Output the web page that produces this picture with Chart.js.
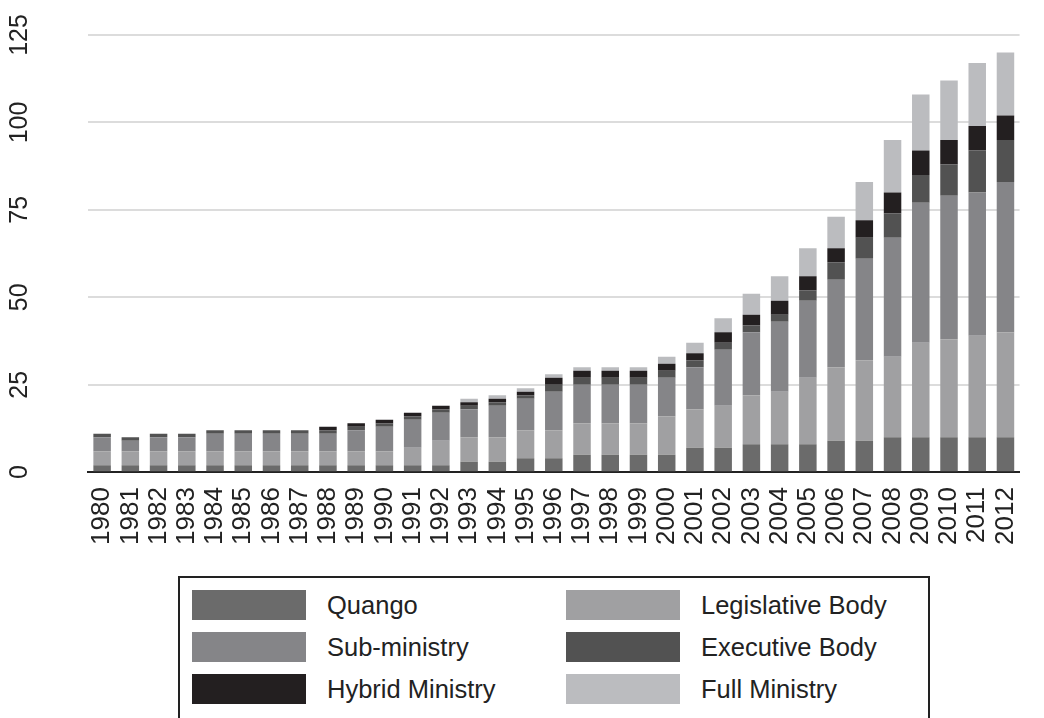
<!DOCTYPE html>
<html>
<head>
<meta charset="utf-8">
<script src="https://cdn.jsdelivr.net/npm/chart.js@4"></script>
<style>
  body { margin: 0; background: #fff; font-family: "Liberation Sans", Arial, sans-serif; }
  #wrap { position: relative; width: 1044px; height: 565px; }
  #legend { position: absolute; left: 178px; top: 576px; width: 752px; height: 150px;
    border: 2px solid #222; box-sizing: border-box; }
  .item { position: absolute; display: flex; align-items: center; font-size: 25.5px; color: #222; }
  .sw { width: 114px; height: 30px; margin-right: 21px; }
</style>
</head>
<body>
<div id="wrap"><canvas id="c" width="1044" height="552"></canvas></div>
<div id="legend"></div>
<script>
// ── Data ──
const years = [];
for (let y = 1980; y <= 2012; y++) years.push(String(y));

const quango      = [2,2,2,2,2,2,2,2,2,2,2,2,2,3,3,4,4,5,5,5,5,7,7,8,8,8,9,9,10,10,10,10,10];
const legislative = [4,4,4,4,4,4,4,4,4,4,4,5,7,7,7,8,8,9,9,9,11,11,12,14,15,19,21,23,23,27,28,29,30];
const subMinistry = [4,3,4,4,5,5,5,5,5,6,7,8,8,8,9,9,11,11,11,11,11,12,16,18,20,22,25,29,34,40,41,41,43];
const executive   = [1,1,1,1,1,1,1,1,1,1,1,1,1,1,1,1,2,2,2,2,2,2,2,2,2,3,5,6,7,8,9,12,12];
const hybrid      = [0,0,0,0,0,0,0,0,1,1,1,1,1,1,1,1,2,2,2,2,2,2,3,3,4,4,4,5,6,7,7,7,7];
const fullMin     = [0,0,0,0,0,0,0,0,0,0,0,0,0,1,1,1,1,1,1,1,2,3,4,6,7,8,9,11,15,16,17,18,18];
const yTicks = [0, 25, 50, 75, 100, 125];

const series = [
  { label: "Quango",           data: quango,      color: "#6b6b6b" },
  { label: "Legislative Body", data: legislative, color: "#a0a0a2" },
  { label: "Sub-ministry",     data: subMinistry, color: "#858588" },
  { label: "Executive Body",   data: executive,   color: "#525252" },
  { label: "Hybrid Ministry",  data: hybrid,      color: "#231f20" },
  { label: "Full Ministry",    data: fullMin,     color: "#bbbcbf" },
];

// ── Rotated y labels ──
const yLabelPlugin = {
  id: "yLabels",
  afterDraw(chart) {
    const { ctx } = chart;
    const y = chart.scales.y;
    ctx.save();
    ctx.fillStyle = "#222";
    ctx.font = "25px 'Liberation Sans', Arial, sans-serif";
    ctx.textAlign = "center";
    ctx.textBaseline = "middle";
    y.ticks.forEach((t) => {
      const py = y.getPixelForValue(t.value);
      ctx.save();
      ctx.translate(20, py);
      ctx.rotate(-Math.PI / 2);
      ctx.fillText(String(t.value), 0, 0);
      ctx.restore();
    });
    ctx.restore();
  },
};

new Chart(document.getElementById("c"), {
  type: "bar",
  data: {
    labels: years,
    datasets: series.map((s) => ({
      label: s.label,
      data: s.data,
      backgroundColor: s.color,
      categoryPercentage: 0.62,
      barPercentage: 1,
    })),
  },
  options: {
    responsive: false,
    animation: false,
    devicePixelRatio: 1,
    layout: { padding: { top: 35, left: 88, right: 22 } },
    plugins: { legend: { display: false }, tooltip: { enabled: false } },
    scales: {
      x: {
        stacked: true,
        grid: { display: false },
        border: { color: "#222", width: 2 },
        ticks: {
          color: "#222",
          autoSkip: false,
          font: { size: 26, family: "'Liberation Sans', Arial, sans-serif" },
          minRotation: 90, maxRotation: 90, padding: 7,
        },
      },
      y: {
        stacked: true,
        min: 0, max: 125,
        afterBuildTicks: (ax) => { ax.ticks = yTicks.map((v) => ({ value: v })); },
        ticks: { display: false },
        grid: { color: "#dcdcdc", lineWidth: 2, drawTicks: false },
        border: { display: false },
      },
    },
  },
  plugins: [yLabelPlugin],
});

// ── Legend ──
const leg = document.getElementById("legend");
series.forEach((s, i) => {
  const el = document.createElement("div");
  el.className = "item";
  el.style.left = (i % 2 === 0 ? 12 : 386) + "px";
  el.style.top = (12 + Math.floor(i / 2) * 42) + "px";
  el.innerHTML = `<div class="sw" style="background:${s.color}"></div>${s.label}`;
  leg.appendChild(el);
});
</script>
</body>
</html>
